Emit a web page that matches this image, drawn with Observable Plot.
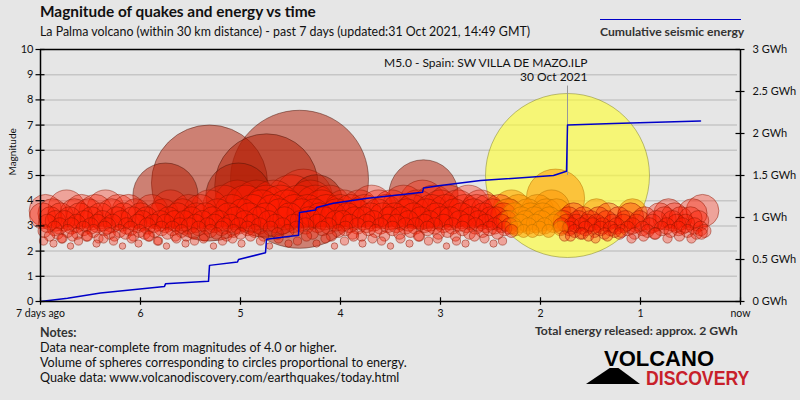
<!DOCTYPE html>
<html><head><meta charset="utf-8">
<script src="https://cdn.jsdelivr.net/npm/d3@7"></script>
<script src="https://cdn.jsdelivr.net/npm/@observablehq/plot@0.6"></script>
<style>
body{margin:0;background:#e6e6e6;font-family:Lato,"Open Sans",sans-serif;}
#wrap{position:relative;width:800px;height:400px;overflow:hidden;background:#e6e6e6}
#chart{position:absolute;left:0;top:0}
.t{position:absolute;white-space:nowrap;color:#111;line-height:1}
.logo{position:absolute;white-space:nowrap;line-height:0.75;font-family:'Liberation Sans',Arial,sans-serif;font-weight:bold}
</style></head><body>
<div id="wrap">
  <div id="chart"></div>
  <div class="t" style="left:40px;top:4px;font-size:15.4px;font-weight:bold">Magnitude of quakes and energy vs time</div>
  <div class="t" style="left:40px;top:26px;font-size:12.4px">La Palma volcano (within 30 km distance) - past 7 days (updated:31 Oct 2021, 14:49 GMT)</div>
  <div style="position:absolute;left:600px;top:19px;width:141px;height:1px;background:#0000c8"></div>
  <div class="t" style="left:600px;top:26px;font-size:12.2px;font-weight:bold;color:#333">Cumulative seismic energy</div>
  <div class="t" style="left:40px;top:327px;font-size:12.5px;font-weight:bold;color:#333">Notes:</div>
  <div class="t" style="left:40px;top:342px;font-size:12.6px">Data near-complete from magnitudes of 4.0 or higher.</div>
  <div class="t" style="left:40px;top:357px;font-size:12.6px">Volume of spheres corresponding to circles proportional to energy.</div>
  <div class="t" style="left:40px;top:372px;font-size:12.6px">Quake data: www.volcanodiscovery.com/earthquakes/today.html</div>
  <div class="t" style="left:535px;top:325px;font-size:12.2px;font-weight:bold;color:#333">Total energy released: approx. 2 GWh</div>
  <div style="position:absolute;left:586px;top:368px;width:54px;height:16px;background:#000;clip-path:polygon(0 100%,44% 0,60% 0,100% 100%)"></div>
  <div class="logo" style="left:604px;top:351px;font-size:22px;color:#000">VOLCANO</div>
  <div class="logo" style="left:646px;top:370px;font-size:21px;color:#c8202a;transform:scaleX(0.84);transform-origin:left top">DISCOVERY</div>
</div>
<script>
// ---- data ----
const dayTicks = [7, 6, 5, 4, 3, 2, 1, 0];
const magTicks = [0, 1, 2, 3, 4, 5, 6, 7, 8, 9, 10];
const energyTicksGWh = [0, 0.5, 1, 1.5, 2, 2.5, 3];

const redDays = [
6.98,6.96,6.95,6.93,6.91,6.90,6.88,6.86,6.85,6.83,
6.81,6.80,6.78,6.76,6.74,6.73,6.71,6.69,6.68,6.66,
6.64,6.63,6.61,6.59,6.57,6.56,6.54,6.52,6.50,6.49,
6.47,6.45,6.43,6.42,6.40,6.38,6.36,6.35,6.33,6.31,
6.29,6.28,6.26,6.24,6.22,6.21,6.19,6.17,6.15,6.14,
6.12,6.10,6.08,6.07,6.05,6.03,6.01,6.00,5.98,5.96,
5.94,5.93,5.91,5.89,5.87,5.86,5.84,5.82,5.80,5.79,
5.77,5.75,5.73,5.72,5.70,5.68,5.66,5.65,5.63,5.61,
5.59,5.58,5.56,5.54,5.52,5.51,5.49,5.47,5.45,5.44,
5.42,5.40,5.38,5.37,5.35,5.33,5.31,5.30,5.28,5.26,
5.24,5.23,5.21,5.19,5.17,5.16,5.14,5.12,5.10,5.09,
5.07,5.05,5.03,5.02,5.00,4.98,4.96,4.95,4.93,4.91,
4.89,4.88,4.86,4.84,4.82,4.81,4.79,4.77,4.75,4.74,
4.72,4.70,4.68,4.67,4.65,4.63,4.61,4.60,4.58,4.56,
4.54,4.53,4.51,4.49,4.47,4.46,4.44,4.42,4.40,4.39,
4.37,4.35,4.33,4.32,4.30,4.28,4.26,4.25,4.23,4.21,
4.19,4.18,4.16,4.14,4.12,4.11,4.09,4.07,4.05,4.04,
4.02,4.00,3.98,3.97,3.95,3.93,3.91,3.90,3.88,3.86,
3.84,3.83,3.81,3.79,3.77,3.76,3.74,3.72,3.70,3.69,
3.67,3.65,3.63,3.62,3.60,3.58,3.56,3.55,3.53,3.51,
3.49,3.48,3.46,3.44,3.42,3.41,3.39,3.37,3.35,3.34,
3.32,3.30,3.28,3.27,3.25,3.23,3.21,3.20,3.18,3.16,
3.14,3.13,3.11,3.09,3.07,3.06,3.04,3.02,3.00,2.99,
2.97,2.95,2.93,2.92,2.90,2.88,2.86,2.85,2.83,2.81,
2.79,2.78,2.76,2.74,2.72,2.71,2.69,2.67,2.65,2.64,
2.62,2.60,2.58,2.57,2.55,2.53,2.51,2.50,2.48,2.46,
2.44,2.43,2.41,2.39,2.37,2.36,2.34,2.32,2.31,2.29,
1.79,1.77,1.76,1.74,1.72,1.71,1.69,1.67,1.66,1.64,
1.62,1.60,1.59,1.57,1.55,1.53,1.52,1.50,1.48,1.46,
1.44,1.42,1.40,1.38,1.36,1.34,1.32,1.30,1.28,1.26,
1.24,1.22,1.19,1.17,1.15,1.13,1.10,1.08,1.06,1.04,
1.01,0.98,0.96,0.93,0.91,0.88,0.86,0.84,0.81,0.79,
0.76,0.74,0.72,0.70,0.68,0.66,0.64,0.62,0.60,0.58,
0.55,0.53,0.50,0.48,0.46,0.44,0.42,0.40,0.38,0.36
];
const redMags = [
3.4,2.8,3.6,3.1,2.6,3.3,3.5,2.9,3.2,2.7,
3.0,3.4,2.5,3.2,3.7,2.8,3.3,3.0,2.6,3.5,
3.1,2.7,3.4,3.6,2.9,3.2,2.6,3.5,3.0,3.3,
2.8,3.6,3.1,2.5,3.4,3.2,2.9,3.7,3.0,2.7,
3.5,3.1,2.6,3.3,3.6,2.8,3.2,3.4,2.7,3.0,
3.6,2.9,3.3,2.6,3.5,3.1,2.8,3.4,3.2,2.7,
3.3,3.0,2.6,3.6,3.1,2.8,3.4,2.4,3.2,2.9,
3.5,3.1,2.7,3.3,3.7,2.9,3.2,2.6,3.4,3.0,
2.8,3.5,3.2,2.6,3.6,3.0,3.3,2.7,3.1,3.4,
2.9,3.6,3.2,2.5,3.4,3.0,3.7,2.8,3.3,3.1,
2.7,3.5,3.2,2.9,3.8,3.0,2.6,3.4,3.1,3.6,
2.8,3.3,3.9,3.0,2.7,3.5,3.2,3.8,2.9,3.4,
3.1,3.6,2.8,3.9,3.3,3.0,3.7,2.6,3.4,3.8,
3.2,2.9,3.6,3.9,3.1,2.7,3.5,3.8,3.0,3.3,
3.7,2.8,3.4,4.0,3.1,3.6,2.9,3.8,3.2,3.5,
4.1,3.0,3.6,3.3,3.9,2.7,3.5,3.8,3.1,3.4,
3.7,2.9,3.3,3.6,3.0,3.8,2.6,3.4,3.2,3.5,
2.8,3.6,3.2,3.7,2.9,3.4,3.1,3.6,2.7,3.3,
3.5,3.0,3.7,2.6,3.3,3.6,3.1,2.9,3.4,3.8,
3.2,2.8,3.5,3.7,3.0,3.4,2.6,3.6,3.1,3.3,
3.7,2.9,3.4,3.1,3.6,2.7,3.3,3.8,3.0,3.5,
3.2,2.8,3.6,3.4,3.0,3.7,2.6,3.3,3.9,3.1,
3.5,2.9,3.2,3.6,3.8,3.0,3.4,2.7,3.7,3.3,
3.1,3.6,2.8,3.8,3.3,3.0,3.5,2.6,3.7,3.2,
3.4,2.9,3.6,3.1,3.8,2.7,3.3,3.5,3.0,3.6,
3.2,3.7,2.8,3.4,3.1,3.6,2.9,3.3,3.5,3.0,
3.3,2.7,3.6,3.1,3.4,2.9,3.2,3.5,3.0,2.8,
3.0,3.2,2.6,3.1,3.3,2.9,3.0,3.4,2.8,3.1,
3.2,2.7,3.0,3.3,2.9,3.1,2.6,3.2,3.0,2.8,
3.1,3.3,2.9,3.0,2.7,3.2,3.4,2.9,3.1,2.8,
3.0,3.3,2.8,3.1,3.2,2.9,3.4,3.0,2.7,3.1,
3.2,2.9,3.3,2.8,3.0,3.1,2.7,3.2,3.4,2.9,
3.3,3.0,3.5,2.8,3.2,3.4,3.1,2.9,3.3,3.0,
3.1,2.8,3.3,3.5,3.0,2.7,3.2,2.9,3.6,2.8
];
const smallDays = [
6.97,6.87,6.79,6.70,6.62,6.53,6.44,6.37,6.27,6.18,
6.09,6.02,5.92,5.83,5.74,5.64,5.55,5.46,5.36,5.27,
5.18,5.08,4.99,4.90,4.80,4.71,4.62,4.52,4.43,4.34,
4.24,4.15,4.06,3.96,3.87,3.78,3.68,3.59,3.50,3.40,
3.31,3.22,3.12,3.03,2.94,2.84,2.75,2.66,2.56,2.47,
2.38,1.70,1.58,1.45,1.33,1.21,1.09,0.97,0.85,0.73,
0.61,0.49,0.39
];
const smallMags = [
2.4,2.3,2.5,2.2,2.4,2.6,2.3,2.5,2.4,2.2,
2.5,2.3,2.6,2.4,2.2,2.5,2.3,2.4,2.6,2.2,
2.4,2.5,2.3,2.6,2.4,2.2,2.5,2.3,2.4,2.6,
2.3,2.5,2.2,2.4,2.6,2.3,2.5,2.4,2.2,2.5,
2.3,2.6,2.4,2.5,2.2,2.4,2.3,2.6,2.5,2.3,
2.4,2.6,2.7,2.5,2.6,2.7,2.5,2.6,2.7,2.5,
2.6,2.5,2.7
];
const deepDays = [5.75, 5.31, 5.02, 4.74, 4.41, 4.24, 3.17];
const deepMags = [4.2, 4.7, 4.2, 4.6, 4.85, 4.0, 4.25];
const orangeDays = [
2.33,2.31,2.29,2.27,2.26,2.24,2.22,2.20,2.19,2.17,
2.15,2.13,2.12,2.10,2.08,2.06,2.05,2.03,2.01,1.99,
1.98,1.96,1.94,1.92,1.91,1.89,1.87,1.85,1.84,1.82,
1.80,1.44,1.08
];
const orangeMags = [
3.5,3.2,3.7,3.0,3.4,2.9,3.6,3.1,3.3,2.8,
3.2,3.5,3.0,3.4,2.8,3.3,3.1,3.6,2.9,3.2,
3.4,3.0,3.5,2.8,3.3,3.7,3.1,4.1,3.5,3.2,
2.9,3.5,3.5
];
const mainDays = [1.73];
const mainMags = [5.0];
const mainLabel = "M5.0 - Spain: SW VILLA DE MAZO.ILP";
const mainDate = "30 Oct 2021";

const energyDays = [7.00,6.73,6.40,5.76,5.75,5.32,5.31,5.03,5.02,4.75,4.74,4.42,4.41,4.25,4.24,4.07,3.73,3.40,3.18,3.17,3.00,2.60,1.87,1.74,1.73,1.27,0.40];
const energyGWh  = [0.00,0.04,0.10,0.18,0.21,0.24,0.43,0.47,0.50,0.58,0.74,0.79,1.06,1.09,1.12,1.17,1.23,1.27,1.30,1.35,1.38,1.44,1.50,1.55,2.10,2.12,2.15];

// ---- build table ----
const palette = {
  red:    {fill: "#ff1a00", fo: 0.33, stroke: "#8a1500"},
  deep:   {fill: "#b41a00", fo: 0.5,  stroke: "#4a1206"},
  orange: {fill: "#ff9000", fo: 0.5,  stroke: "#b07000"},
  yellow: {fill: "#ffff30", fo: 0.62, stroke: "#7a7a20"}
};
const quakes = [];
function addGroup(days, mags, cls) { days.forEach((d, i) => quakes.push({days: d, mag: mags[i], cls})); }
addGroup(redDays, redMags, "red");
addGroup(smallDays, smallMags, "red");
addGroup(deepDays, deepMags, "deep");
addGroup(orangeDays, orangeMags, "orange");
addGroup(mainDays, mainMags, "yellow");

const energy = energyDays.map((d, i) => ({days: d, gwh: energyGWh[i]}));
const eToMag = g => g * 10 / 3;
const event = mainDays.map((d, i) => ({days: d, mag: mainMags[i], text: mainLabel + "\n" + mainDate}));

const chart = Plot.plot({
  width: 800, height: 400,
  marginLeft: 40, marginRight: 60, marginTop: 49, marginBottom: 99,
  style: {background: "transparent", fontFamily: "Lato, 'Open Sans', sans-serif", fontSize: "11px", color: "#111"},
  x: {domain: [7, 0]},
  y: {domain: [0, 10]},
  r: {type: "linear", domain: [0, Math.pow(10, 2.5)], range: [0, 82]},
  color: {type: "identity"},
  opacity: {type: "identity"},
  marks: [
    Plot.ruleY(magTicks.filter(m => m > 0 && m < 10), {x1: 7, x2: 0.03, stroke: "#c6c6c6", strokeWidth: 1.5}),
    Plot.dot(quakes, {
      x: "days", y: "mag", r: d => Math.pow(10, d.mag / 2),
      fill: d => palette[d.cls].fill, fillOpacity: d => palette[d.cls].fo,
      stroke: d => palette[d.cls].stroke, strokeOpacity: 0.6, strokeWidth: 0.8
    }),
    Plot.ruleX(event, {x: "days", y1: 8.55, y2: "mag", stroke: "#999", strokeWidth: 1}),
    Plot.line(energy, {x: "days", y: d => eToMag(d.gwh), stroke: "#0000c8", strokeWidth: 1.5}),
    Plot.text(event, {x: "days", y: () => 10, text: "text", textAnchor: "end", lineAnchor: "top", dx: 20, dy: 7, fontSize: 12, lineHeight: 1.2, fill: "#111"}),
    // frame lines
    Plot.ruleX([7, 0], {stroke: "#000", strokeWidth: 1.5}),
    Plot.ruleY([0, 10], {stroke: "#000", strokeWidth: 1.5}),
    // crossing tick marks
    Plot.ruleY(magTicks, {x1: 7.045, x2: 6.955, stroke: "#000", strokeWidth: 1.2}),
    Plot.ruleY(energyTicksGWh.map(eToMag), {x1: 0.045, x2: -0.045, stroke: "#000", strokeWidth: 1.2}),
    Plot.ruleX(dayTicks, {y1: -0.15, y2: 0.15, stroke: "#000", strokeWidth: 1.2}),
    // axes labels
    Plot.axisY({ticks: magTicks, tickSize: 0, tickPadding: 7, label: null, fontSize: 11}),
    Plot.text(["Magnitude"], {frameAnchor: "left", dx: -28, rotate: -90, text: d => d, fontSize: 10, fill: "#111"}),
    Plot.axisY({anchor: "right", ticks: energyTicksGWh.map(eToMag), tickSize: 0, tickPadding: 12, label: null,
      tickFormat: v => `${+(v * 0.3).toFixed(1)} GWh`, textAnchor: "start"}),
    Plot.axisX({ticks: dayTicks, tickSize: 0, tickPadding: 8, label: null, fontSize: 10.5,
      tickFormat: d => d === 7 ? "7 days ago" : d === 0 ? "now" : String(d)})
  ]
});
document.getElementById("chart").appendChild(chart);
</script>
</body></html>
